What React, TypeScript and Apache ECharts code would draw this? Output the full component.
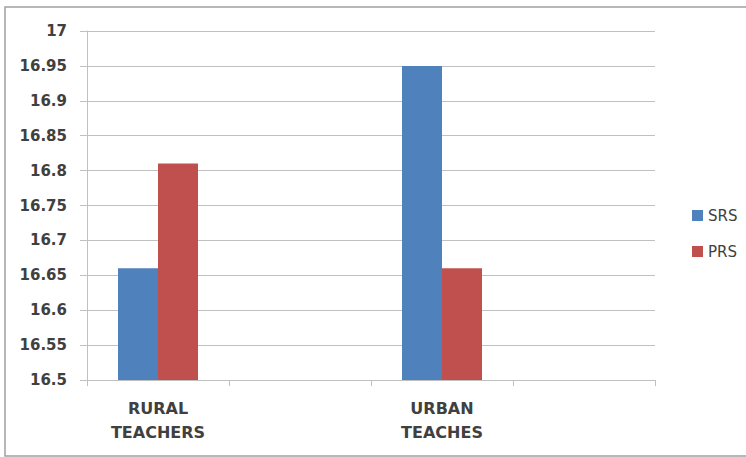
import React, { useEffect, useRef } from "react";
import * as echarts from "echarts";

const categories = ["RURAL\nTEACHERS", "", "URBAN\nTEACHES", ""];
const srsValues: (number | string)[] = [16.66, "-", 16.95, "-"];
const prsValues: (number | string)[] = [16.81, "-", 16.66, "-"];
const seriesNames = ["SRS", "PRS"];
const yMin = 16.5;
const yMax = 17;
const yStep = 0.05;

const FONT = "DejaVu Sans";
const TEXT = "#404040";
const GRID = "#c0c0c0";

export default function App() {
  const ref = useRef<HTMLDivElement>(null);
  useEffect(() => {
    document.body.style.margin = "0";
    const chart = echarts.init(ref.current!, null, { renderer: "svg" });
    chart.setOption({
      animation: false,
      backgroundColor: "#ffffff",
      graphic: [
        {
          type: "rect",
          shape: { x: 5, y: 7, width: 760, height: 449 },
          style: { fill: "none", stroke: "#a0a0a0", lineWidth: 1.5 },
          silent: true,
        },
      ],
      grid: { left: 87, top: 31, right: 91, bottom: 77 },
      legend: {
        orient: "vertical",
        left: 687,
        top: 203,
        itemWidth: 11,
        itemHeight: 11,
        itemGap: 21,
        icon: "rect",
        data: seriesNames,
        textStyle: { fontFamily: FONT, fontSize: 15, color: TEXT },
      },
      xAxis: {
        type: "category",
        data: categories,
        axisLine: { lineStyle: { color: GRID, width: 1 } },
        axisTick: { show: true, length: 6, lineStyle: { color: GRID } },
        axisLabel: {
          interval: 0,
          margin: 16,
          fontFamily: FONT,
          fontSize: 16,
          fontWeight: "bold",
          color: TEXT,
          lineHeight: 24,
        },
        splitLine: { show: false },
      },
      yAxis: {
        type: "value",
        min: yMin,
        max: yMax,
        interval: yStep,
        axisLine: { show: true, lineStyle: { color: GRID, width: 1 } },
        axisTick: { show: true, length: 7, lineStyle: { color: GRID } },
        splitLine: { lineStyle: { color: GRID, width: 1 } },
        axisLabel: {
          margin: 20,
          fontFamily: FONT,
          fontSize: 15,
          fontWeight: "bold",
          color: TEXT,
          formatter: (v: number) => String(parseFloat(v.toFixed(2))),
        },
      },
      series: [
        {
          name: seriesNames[0],
          type: "bar",
          data: srsValues,
          barWidth: 40,
          barGap: "0%",
          itemStyle: { color: "#4f81bd" },
        },
        {
          name: seriesNames[1],
          type: "bar",
          data: prsValues,
          barWidth: 40,
          barGap: "0%",
          itemStyle: { color: "#c0504d" },
        },
      ],
    });
    return () => chart.dispose();
  }, []);
  return <div ref={ref} style={{ width: 746, height: 457 }} />;
}
